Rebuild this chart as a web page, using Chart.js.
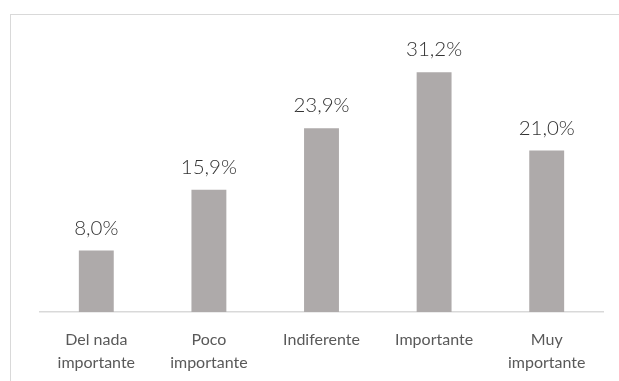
<!DOCTYPE html>
<html>
<head>
<meta charset="utf-8">
<script src="https://cdn.jsdelivr.net/npm/chart.js@4/dist/chart.umd.min.js"></script>
<style>
  html, body { margin: 0; padding: 0; background: #fff; overflow: hidden; }
  #frame {
    position: absolute; left: 10px; top: 14px;
    width: 640px; height: 400px;
    border: 1px solid #d9d9d9; box-sizing: border-box;
  }
  #wrap { position: absolute; left: 0; top: 0; width: 619px; height: 381px; }
</style>
</head>
<body>
<div id="frame"></div>
<div id="wrap"><canvas id="chart1"></canvas></div>
<script>
var categories = [
    ["Del nada", "importante"],
    ["Poco", "importante"],
    "Indiferente",
    "Importante",
    ["Muy", "importante"]
];
var percentages = [8.0, 15.9, 23.9, 31.2, 21.0];

// value labels above each bar, written with a decimal comma
var barValueLabels = {
    id: 'barValueLabels',
    afterDatasetsDraw: function (chart) {
        var ctx = chart.ctx;
        var meta = chart.getDatasetMeta(0);
        ctx.save();
        ctx.font = '300 20.5px Lato';
        ctx.fillStyle = '#333333';
        ctx.textAlign = 'center';
        ctx.textBaseline = 'alphabetic';
        meta.data.forEach(function (bar, i) {
            var text = percentages[i].toFixed(1).replace('.', ',') + '%';
            ctx.fillText(text, bar.x, bar.y - 16);
        });
        ctx.restore();
    }
};

var chartCanvas1 = document.getElementById('chart1');
var configCanvas1 = {
    type: "bar",
    data: {
        labels: categories,
        datasets: [{
            data: percentages,
            backgroundColor: '#aeaaaa',
            borderWidth: 0,
            barPercentage: 0.31,
            categoryPercentage: 1
        }]
    },
    options: {
        responsive: true,
        maintainAspectRatio: false,
        animation: false,
        layout: { padding: { left: 40, right: 16, top: 43, bottom: 0 } },
        plugins: {
            legend: { display: false },
            tooltip: { enabled: false }
        },
        scales: {
            x: {
                grid: { display: false },
                border: { display: true, color: '#d9d9d9', width: 1.5 },
                ticks: {
                    color: '#595959',
                    font: { family: 'Lato', size: 16, weight: '400', lineHeight: 1.45 },
                    padding: 8,
                    maxRotation: 0,
                    autoSkip: false
                },
                afterFit: function (scale) { scale.height = 69; }
            },
            y: {
                display: false,
                min: 0,
                max: 35
            }
        }
    },
    plugins: [barValueLabels]
};

var myChart1 = new Chart(chartCanvas1, configCanvas1);
</script>
</body>
</html>
